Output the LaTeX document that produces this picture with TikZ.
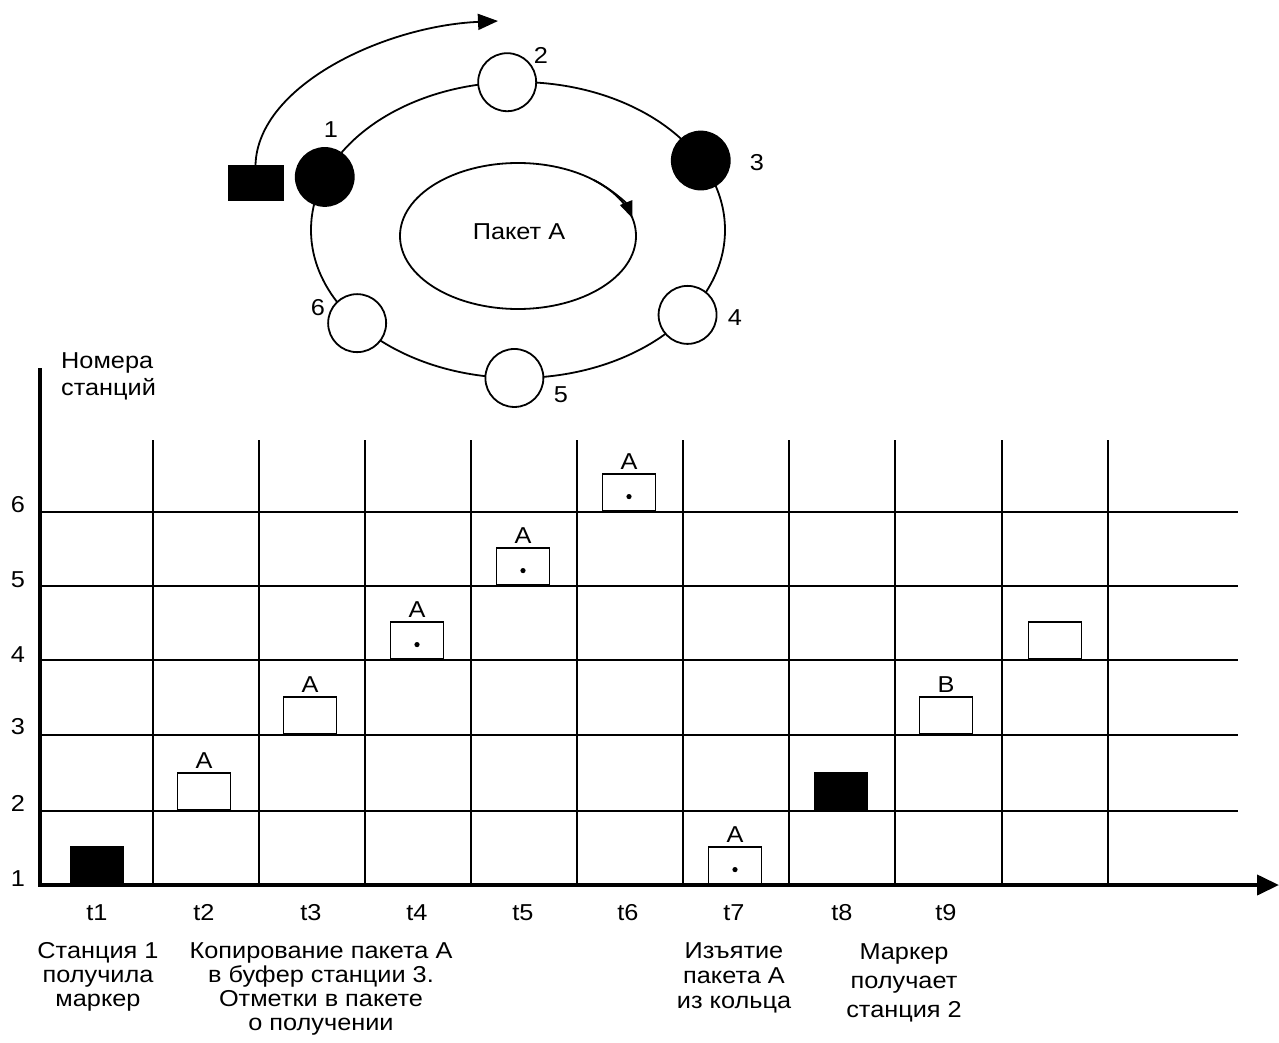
\documentclass[tikz,border=0pt]{standalone}
\usepackage{fontspec}
\setmainfont[FakeStretch=1.1]{Liberation Sans}
\usetikzlibrary{arrows.meta,calc}
\begin{document}
\begin{tikzpicture}[x=1pt,y=-1pt,
  gridline/.style={line width=1.8pt},
  axisline/.style={line width=4pt},
  ringline/.style={line width=1.8pt},
  pkt/.style={draw,line width=1.8pt,minimum width=53pt,minimum height=37pt,inner sep=0pt,anchor=south,fill=white},
  blk/.style={pkt,fill=black},
  txt/.style={font=\fontsize{23}{25}\selectfont,inner sep=0pt,align=center},
  pktlbl/.style={txt,anchor=south,yshift=4pt},
  station/.style={circle,draw,line width=1.8pt,minimum size=58pt,inner sep=0pt,fill=white},
  bstation/.style={station,fill=black},
  pktdot/.style={fill=black}
]
\useasboundingbox[fill=white] (0,0) rectangle (1279,1043);

% ---------- ring ----------
\coordinate (C) at (518,230);
\draw[ringline] (C) ellipse [x radius=207, y radius=148];
\node[bstation] (s1) at ($(C)+(-159:207 and 148)$) {};
\node[station]  (s2) at ($(C)+(-93:207 and 148)$) {};
\node[bstation] (s3) at ($(C)+(-28:207 and 148)$) {};
\node[station]  (s4) at ($(C)+(35:207 and 148)$) {};
\node[station]  (s5) at ($(C)+(91:207 and 148)$) {};
\node[station]  (s6) at ($(C)+(141:207 and 148)$) {};
\node[txt] (n1) at (331,130) {1};
\node[txt] (n2) at (541,55) {2};
\node[txt] (n3) at (757,163) {3};
\node[txt] (n4) at (735,318) {4};
\node[txt] (n5) at (561,395) {5};
\node[txt] (n6) at (318,308) {6};

% inner ellipse
\coordinate (IC) at (518,236);
\draw[ringline] (IC) ellipse [x radius=118, y radius=73];
\draw[ringline,-{Triangle[length=17pt,width=13pt]}] ($(IC)+(-50:118 and 73)$) arc[start angle=-50,end angle=-14,x radius=118,y radius=73];
\node[txt] (pa) at (519,232) {Пакет А};

% token and arrow
\node[draw,fill=black,minimum width=55pt,minimum height=35pt,inner sep=0pt] (tok) at (255.5,182.5) {};
\coordinate (tokend) at (498,21);
\draw[line width=1.8pt,-{Triangle[length=20pt,width=16pt]}] (tok.north) .. controls (258,85) and (385,26) .. (tokend);

% ---------- grid ----------
\coordinate (O) at (40,885);
\coordinate (ytop) at (40,368);
\coordinate (xend) at (1279,885);
\foreach \x in {153,259,365,471,577,683,789,895,1002,1108}
  \draw[gridline] (\x,440) -- (\x,885);
\foreach \y in {512,586,660,735,811}
  \draw[gridline] (40,\y) -- (1238,\y);
\draw[axisline] ([yshift=2pt]O) -- (ytop);
\draw[axisline,-{Triangle[length=22pt,width=20pt]}] ([xshift=-2pt]O) -- (xend);

\node[txt,align=left,anchor=north west,font=\fontsize{23}{27}\selectfont] (ylab) at (61,352) {Номера\\станций};
\node[txt] (y6) at (18,505) {6};
\node[txt] (y5) at (18,580) {5};
\node[txt] (y4) at (18,655) {4};
\node[txt] (y3) at (18,727) {3};
\node[txt] (y2) at (18,803) {2};
\node[txt] (y1) at (18,879) {1};

% ---------- packets ----------
\node[blk] (p1) at (97,885) {};
\node[pkt] (p2) at (204,811) {};
\node[pktlbl] at (p2.north) {A};
\node[pkt] (p3) at (310,735) {};
\node[pktlbl] at (p3.north) {A};
\node[pkt] (p4) at (417,660) {};
\node[pktlbl] at (p4.north) {A};
\node[pkt] (p5) at (523,586) {};
\node[pktlbl] at (p5.north) {A};
\node[pkt] (p6) at (629,512) {};
\node[pktlbl] at (p6.north) {A};
\node[pkt] (p7) at (735,885) {};
\node[pktlbl] at (p7.north) {A};
\node[blk] (p8) at (841,811) {};
\node[pkt] (p9) at (946,735) {};
\node[pktlbl] at (p9.north) {B};
\node[pkt] (p10) at (1055,660) {};
\foreach \p in {p4,p5,p6,p7}
  \fill[pktdot] ([yshift=-4pt]\p.center) circle (2.6pt);

% ---------- time labels ----------
\node[txt] (t1) at (97,913) {t1};
\node[txt] (t2) at (204,913) {t2};
\node[txt] (t3) at (311,913) {t3};
\node[txt] (t4) at (417,913) {t4};
\node[txt] (t5) at (523,913) {t5};
\node[txt] (t6) at (628,913) {t6};
\node[txt] (t7) at (734,913) {t7};
\node[txt] (t8) at (842,913) {t8};
\node[txt] (t9) at (946,913) {t9};

\node[txt,anchor=north,font=\fontsize{23}{24}\selectfont] (d1) at (98,942) {Станция 1\\получила\\маркер};
\node[txt,anchor=north,font=\fontsize{23}{24}\selectfont] (d2) at (321,942) {Копирование пакета А\\в буфер станции 3.\\Отметки в пакете\\о получении};
\node[txt,anchor=north,font=\fontsize{23}{25}\selectfont] (d7) at (734,942) {Изъятие\\пакета А\\из кольца};
\node[txt,anchor=north,font=\fontsize{23}{29}\selectfont] (d9) at (904,943) {Маркер\\получает\\станция 2};
\end{tikzpicture}
\end{document}
